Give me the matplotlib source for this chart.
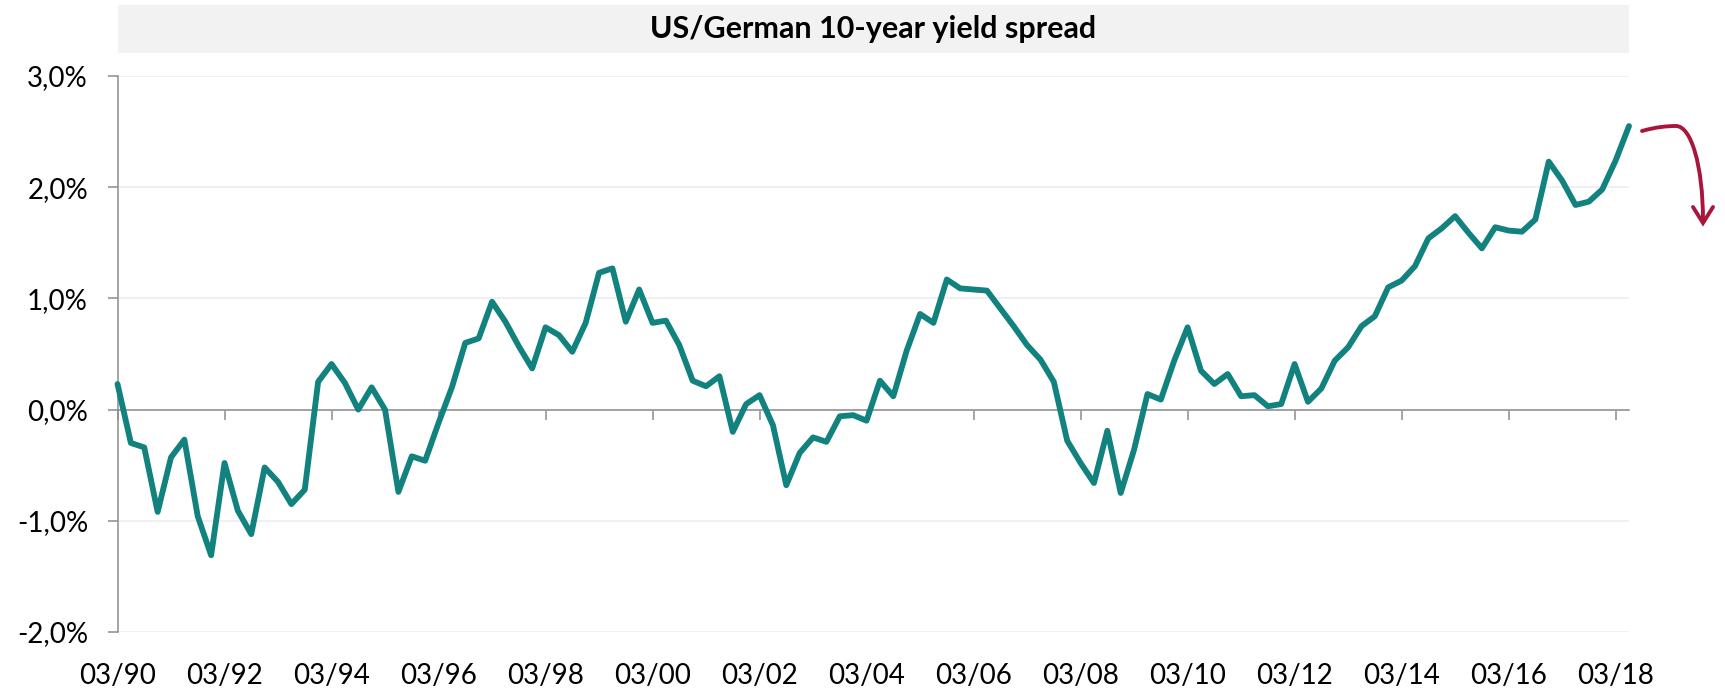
import numpy as np
import pandas as pd
import matplotlib
matplotlib.use("Agg")
import matplotlib.pyplot as plt
from matplotlib.patches import Rectangle, PathPatch
from matplotlib.path import Path
from matplotlib.lines import Line2D
from matplotlib.ticker import FuncFormatter, FixedLocator

# Quarterly US minus German 10-year government bond yield, in percentage points
start_quarter = "1990Q1"
spread = [
    0.23, -0.30, -0.34, -0.92, -0.43, -0.27, -0.96, -1.31,   # 1990-1991
    -0.48, -0.91, -1.12, -0.52, -0.65, -0.85, -0.72, 0.25,   # 1992-1993
    0.41, 0.24, 0.00, 0.20, 0.00, -0.74, -0.42, -0.46,       # 1994-1995
    -0.12, 0.20, 0.60, 0.64, 0.97, 0.79, 0.57, 0.37,         # 1996-1997
    0.74, 0.67, 0.52, 0.78, 1.23, 1.27, 0.79, 1.08,          # 1998-1999
    0.78, 0.80, 0.58, 0.26, 0.21, 0.30, -0.20, 0.05,         # 2000-2001
    0.13, -0.14, -0.68, -0.39, -0.25, -0.29, -0.06, -0.05,   # 2002-2003
    -0.10, 0.26, 0.12, 0.53, 0.86, 0.78, 1.17, 1.09,         # 2004-2005
    1.08, 1.07, 0.91, 0.75, 0.58, 0.45, 0.25, -0.28,         # 2006-2007
    -0.48, -0.66, -0.19, -0.75, -0.36, 0.14, 0.09, 0.44,     # 2008-2009
    0.74, 0.35, 0.23, 0.32, 0.12, 0.13, 0.03, 0.05,          # 2010-2011
    0.41, 0.07, 0.19, 0.44, 0.56, 0.75, 0.84, 1.10,          # 2012-2013
    1.16, 1.29, 1.54, 1.63, 1.74, 1.59, 1.45, 1.64,          # 2014-2015
    1.61, 1.60, 1.71, 2.23, 2.06, 1.84, 1.87, 1.98,          # 2016-2017
    2.24, 2.55,                                               # 2018
]
title = "US/German 10-year yield spread"
y_ticks = [-2, -1, 0, 1, 2, 3]
label_every = 8  # one date label every two years

quarters = pd.period_range(start_quarter, periods=len(spread), freq="Q")
x = np.arange(len(spread))
tick_pos = x[::label_every]
tick_labels = [q.end_time.strftime("%m/%y") for q in quarters[::label_every]]

TEAL = "#12827F"
ARROW_RED = "#A8173B"
AXIS_GREY = "#8C8C8C"
GRID_GREY = "#EDEDED"
BOX_GREY = "#F2F2F2"
FONT = ["Lato", "DejaVu Sans"]

W, H = 1725, 691
fig = plt.figure(figsize=(W / 100, H / 100), dpi=100)
plt.rcParams["font.family"] = FONT

ax = fig.add_axes([117.5 / W, 1 - 632 / H, (1629 - 117.5) / W, 556 / H])

ax.plot(x, spread, color=TEAL, lw=4.2, solid_joinstyle="round",
        solid_capstyle="round", zorder=4, clip_on=False)

ax.set_xlim(0, len(spread) - 1)
ax.set_ylim(min(y_ticks), max(y_ticks))

# horizontal grid
ax.set_yticks(y_ticks)
ax.yaxis.grid(True, color=GRID_GREY, lw=1.2)
ax.xaxis.grid(False)
ax.set_axisbelow(True)
ax.yaxis.set_major_formatter(FuncFormatter(lambda v, _: f"{v:.1f}%".replace(".", ",")))
ax.tick_params(axis="y", direction="out", length=7.2, width=1.1, color=AXIS_GREY,
               pad=14, labelsize=20, labelcolor="black")

# category axis drawn along the zero line, labels kept at the bottom
for side in ("top", "right"):
    ax.spines[side].set_visible(False)
ax.spines["left"].set_color(AXIS_GREY)
ax.spines["left"].set_linewidth(1.1)
ax.spines["bottom"].set_position(("data", 0))
ax.spines["bottom"].set_color(AXIS_GREY)
ax.spines["bottom"].set_linewidth(1.1)
ax.spines["bottom"].set_zorder(3)
ax.xaxis.set_major_locator(FixedLocator(tick_pos))
ax.tick_params(axis="x", direction="out", length=7.2, width=1.1, color=AXIS_GREY,
               labelbottom=False)

sec = ax.secondary_xaxis("bottom")
sec.xaxis.set_major_locator(FixedLocator(tick_pos))
sec.set_xticklabels(tick_labels)
sec.tick_params(axis="x", length=0, pad=22, labelsize=20, labelcolor="black")
sec.spines["bottom"].set_visible(False)

# title banner
box_bottom = (632 - 53) / 556
box_top = (632 - 5) / 556
ax.add_patch(Rectangle((0, box_bottom), 1, box_top - box_bottom, transform=ax.transAxes,
                       facecolor=BOX_GREY, edgecolor="none", clip_on=False, zorder=0))
ax.text(0.5, (box_bottom + box_top) / 2, title, transform=ax.transAxes,
        ha="center", va="center", fontsize=22, fontweight="bold", color="black")

# hand-drawn style arrow hinting at a turn lower
def fpt(px, py):
    return (px / W, 1 - py / H)

verts = [fpt(1642, 131), fpt(1656, 127), fpt(1667, 126), fpt(1676, 126),
         fpt(1691, 126), fpt(1703, 165), fpt(1703, 221)]
codes = [Path.MOVETO] + [Path.CURVE4] * 6
fig.add_artist(PathPatch(Path(verts, codes), transform=fig.transFigure,
                         facecolor="none", edgecolor=ARROW_RED, lw=2.8,
                         capstyle="round"))
head = [fpt(1693, 207), fpt(1703, 223), fpt(1713, 207)]
fig.add_artist(Line2D([p[0] for p in head], [p[1] for p in head],
                      transform=fig.transFigure, color=ARROW_RED, lw=2.8,
                      solid_joinstyle="miter", solid_capstyle="round"))

fig.savefig("out.png", dpi=100)
